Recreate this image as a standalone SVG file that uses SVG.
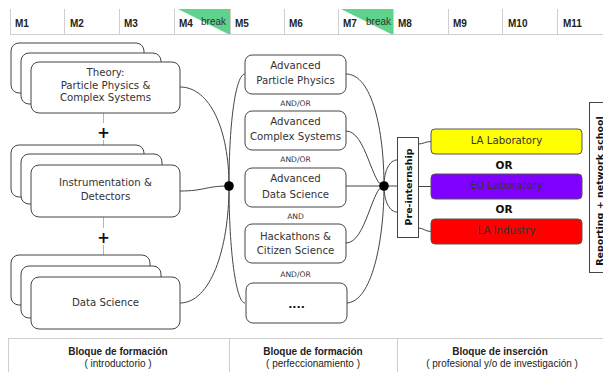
<svg xmlns="http://www.w3.org/2000/svg" width="603" height="372" viewBox="0 0 603 372">
<style>
.hdr{font-family:"Liberation Sans",Arial,sans-serif;font-size:10px;font-weight:bold;fill:#222}
.brk{font-family:"Liberation Sans",Arial,sans-serif;font-size:10px;fill:#333}
.grid{stroke:#cfcfcf;stroke-width:1;fill:none}
.box{fill:#fff;stroke:#444;stroke-width:1}
.t{font-family:"DejaVu Sans",Verdana,sans-serif;font-size:10.2px;fill:#333;text-anchor:middle}
.sm{font-family:"DejaVu Sans",Verdana,sans-serif;font-size:7.6px;fill:#333;text-anchor:middle}
.b{font-family:"DejaVu Sans",Verdana,sans-serif;font-weight:bold;fill:#111;text-anchor:middle}
.con{fill:none;stroke:#444;stroke-width:1}
.plusline{stroke:#8cc9ad;stroke-width:1}
.ft{font-family:"Liberation Sans",Arial,sans-serif;font-size:10px;fill:#222;text-anchor:middle}
</style>
<rect width="603" height="372" fill="#fff"/>
<g id="header">
<polygon points="178,9 230,9 230,35" fill="#5fd38d"/>
<polygon points="341,9 393,9 393,35" fill="#5fd38d"/>
<path class="grid" d="M10,34.5H603M10.5,9V34M64.5,9V34M119.5,9V34M174.5,9V34M230.5,9V34M284.5,9V34M338.5,9V34M393.5,9V34M448.5,9V34M502.5,9V34M557.5,9V34"/>
<text class="hdr" x="15" y="27">M1</text>
<text class="hdr" x="70" y="27">M2</text>
<text class="hdr" x="124" y="27">M3</text>
<text class="hdr" x="179" y="27">M4</text>
<text class="brk" x="201" y="25">break</text>
<text class="hdr" x="235" y="27">M5</text>
<text class="hdr" x="289" y="27">M6</text>
<text class="hdr" x="343" y="27">M7</text>
<text class="brk" x="366" y="25">break</text>
<text class="hdr" x="398" y="27">M8</text>
<text class="hdr" x="453" y="27">M9</text>
<text class="hdr" x="508" y="27">M10</text>
<text class="hdr" x="563" y="27">M11</text>
</g>
<g id="connectors">
<path class="plusline" d="M103.5,113V123M103.5,140V165M103.5,217V228M103.5,245V277"/>
<path class="con" d="M180,87 C210,87 229,130 229,186"/>
<path class="con" d="M180,191 C205,191 205,186 229,186"/>
<path class="con" d="M180,303 C210,303 229,250 229,186"/>
<path class="con" d="M229,186 C229,120 236,74 245,74"/>
<path class="con" d="M229,186 C229,250 236,303 245,303"/>
<path class="con" d="M346,74 C372,74 384,130 384,186"/>
<path class="con" d="M346,131 C366,131 372,186 384,186"/>
<path class="con" d="M346,186 H384"/>
<path class="con" d="M346,243 C366,243 372,186 384,186"/>
<path class="con" d="M346,303 C372,303 384,240 384,186"/>
<path class="con" d="M384,186 C384,170 390,160 397,160"/>
<path class="con" d="M384,186 H397"/>
<path class="con" d="M384,186 C384,202 390,212 397,212"/>
<path class="con" d="M418,144 C424,144 425,141.5 431,141.5"/>
<path class="con" d="M418,186.5 H431"/>
<path class="con" d="M418,228 C424,228 425,231.5 431,231.5"/>
<circle cx="229" cy="186" r="4.8" fill="#000"/>
<circle cx="384" cy="186" r="4.8" fill="#000"/>
</g>
<g id="theory">
<rect class="box" x="11" y="43" width="133" height="50" rx="8"/>
<rect class="box" x="21" y="53" width="140" height="51" rx="8"/>
<rect class="box" x="31" y="62" width="149" height="51" rx="8"/>
<text class="t" x="105.5" y="76">Theory:</text>
<text class="t" x="105.5" y="88.5">Particle Physics &amp;</text>
<text class="t" x="105.5" y="101">Complex Systems</text>
</g>
<g id="plus1"><text class="b" x="103.5" y="138" style="font-size:15px">+</text></g>
<g id="instrumentation">
<rect class="box" x="11" y="145" width="133" height="52" rx="8"/>
<rect class="box" x="21" y="154" width="141" height="50" rx="8"/>
<rect class="box" x="31" y="165" width="149" height="52" rx="8"/>
<text class="t" x="105.5" y="186.4">Instrumentation &amp;</text>
<text class="t" x="105.5" y="200.4">Detectors</text>
</g>
<g id="plus2"><text class="b" x="103.5" y="243" style="font-size:15px">+</text></g>
<g id="datascience">
<rect class="box" x="11" y="255" width="139" height="50" rx="8"/>
<rect class="box" x="21" y="266" width="140" height="52" rx="8"/>
<rect class="box" x="31" y="277" width="149" height="52" rx="8"/>
<text class="t" x="105.5" y="306.4">Data Science</text>
</g>
<g id="adv-particle">
<rect class="box" x="245" y="55" width="101" height="39" rx="7"/>
<text class="t" x="295.5" y="69.4">Advanced</text>
<text class="t" x="295.5" y="83.7">Particle Physics</text>
</g>
<text class="sm" x="295.5" y="106">AND/OR</text>
<g id="adv-complex">
<rect class="box" x="245" y="111" width="101" height="39" rx="7"/>
<text class="t" x="295.5" y="125.4">Advanced</text>
<text class="t" x="295.5" y="139.7">Complex Systems</text>
</g>
<text class="sm" x="295.5" y="162">AND/OR</text>
<g id="adv-data">
<rect class="box" x="245" y="168" width="101" height="39" rx="7"/>
<text class="t" x="295.5" y="182">Advanced</text>
<text class="t" x="295.5" y="197.7">Data Science</text>
</g>
<text class="sm" x="295.5" y="219">AND</text>
<g id="hackathons">
<rect class="box" x="245" y="224" width="101" height="39" rx="7"/>
<text class="t" x="295.5" y="239.7">Hackathons &amp;</text>
<text class="t" x="295.5" y="253.7">Citizen Science</text>
</g>
<text class="sm" x="295.5" y="277">AND/OR</text>
<g id="more">
<rect class="box" x="246" y="283" width="101" height="40" rx="7"/>
<text class="b" x="296.5" y="308" style="font-size:11px">....</text>
</g>
<g id="preinternship">
<rect class="box" x="397.5" y="137.5" width="21" height="100"/>
<text class="b" transform="translate(412,187) rotate(-90)" style="font-size:9.5px">Pre-internship</text>
</g>
<g id="la-lab">
<rect x="431" y="129" width="151" height="25" rx="4" fill="#ffff00" stroke="#555"/>
<text class="t" x="506.5" y="144.4">LA Laboratory</text>
</g>
<text class="b" x="504" y="168.8" style="font-size:10.5px">OR</text>
<g id="eu-lab">
<rect x="431" y="174" width="151" height="25" rx="4" fill="#8000ff" stroke="#555"/>
<text class="t" x="506.5" y="189.4">EU Laboratory</text>
</g>
<text class="b" x="504" y="212.8" style="font-size:10.5px">OR</text>
<g id="la-industry">
<rect x="431" y="219" width="151" height="25" rx="4" fill="#ff0000" stroke="#555"/>
<text class="t" x="506.5" y="233.7">LA Industry</text>
</g>
<g id="reporting">
<rect class="box" x="589.5" y="102.5" width="20" height="170"/>
<text class="b" transform="translate(602.5,191) rotate(-90)" style="font-size:9.5px">Reporting + network school</text>
</g>
<g id="footer">
<path class="grid" d="M8,338.5H603M8.5,338V372M229.5,338V372M397.5,338V372"/>
<text class="ft" x="118" y="355" font-weight="bold">Bloque de formación</text>
<text class="ft" x="118" y="367">( introductorio )</text>
<text class="ft" x="313" y="355" font-weight="bold">Bloque de formación</text>
<text class="ft" x="313" y="367">( perfeccionamiento )</text>
<text class="ft" x="500" y="355" font-weight="bold">Bloque de inserción</text>
<text class="ft" x="502" y="367">( profesional y/o de investigación )</text>
</g>
</svg>
